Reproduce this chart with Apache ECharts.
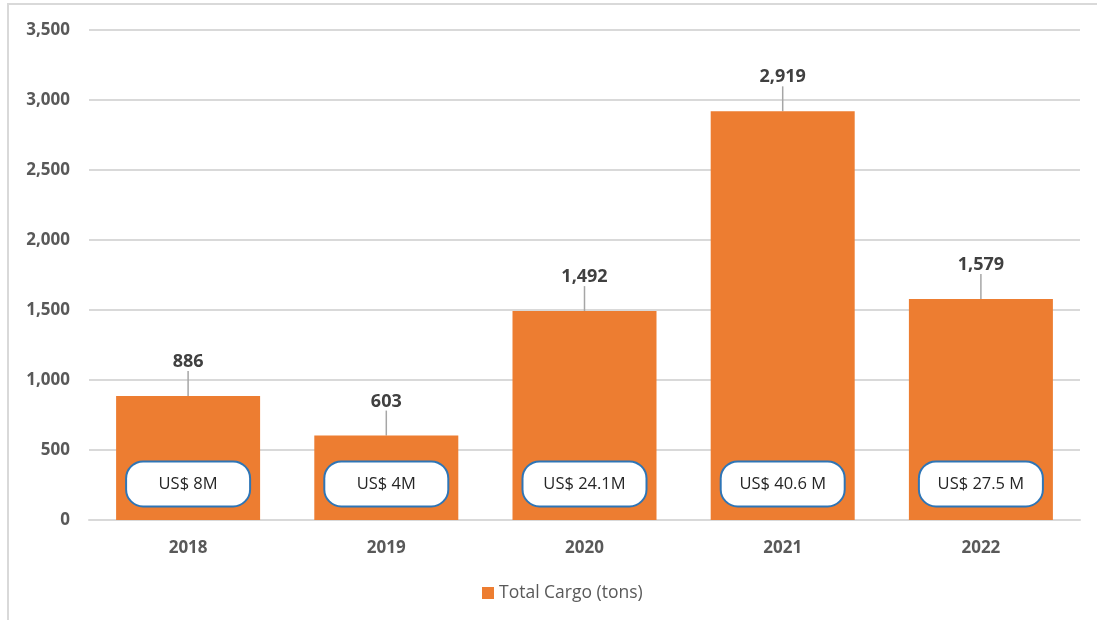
<!DOCTYPE html>
<html>
<head>
<meta charset="utf-8">
<script src="https://cdn.jsdelivr.net/npm/echarts@6/dist/echarts.min.js"></script>
<style>
html,body{margin:0;padding:0;background:#fff;}
#chart{width:1097px;height:620px;}
</style>
</head>
<body>
<div id="chart"></div>
<script>
const categories = ['2018', '2019', '2020', '2021', '2022'];
const cargoTons = [886, 603, 1492, 2919, 1579];
const valueLabels = ['US$ 8M', 'US$ 4M', 'US$ 24.1M', 'US$ 40.6 M', 'US$ 27.5 M'];
const seriesName = 'Total Cargo (tons)';

const BOX_LEVEL = 258;

const chart = echarts.init(document.getElementById('chart'));
chart.setOption({
  animation: false,
  backgroundColor: '#fff',
  textStyle: { fontFamily: 'Open Sans' },
  graphic: [{
    type: 'rect', silent: true, z: -10,
    shape: { x: 8, y: 4, width: 1200, height: 800 },
    style: { fill: 'none', stroke: '#d9d9d9', lineWidth: 2 }
  }],
  grid: { left: 89, right: 17, top: 30, bottom: 100 },
  legend: {
    data: [seriesName],
    top: 579,
    left: 477,
    itemWidth: 12, itemHeight: 12, itemGap: 6,
    icon: 'rect',
    textStyle: { color: '#595959', fontSize: 17.5, fontFamily: 'Open Sans' }
  },
  xAxis: {
    type: 'category',
    data: categories,
    axisLine: { show: true, lineStyle: { color: '#d9d9d9', width: 2 } },
    axisTick: { show: false },
    axisLabel: { color: '#595959', fontSize: 17, fontWeight: 'bold', margin: 20, fontFamily: 'Open Sans' }
  },
  yAxis: {
    type: 'value',
    min: 0, max: 3500, interval: 500,
    axisLine: { show: false },
    axisTick: { show: false },
    splitLine: { lineStyle: { color: '#d9d9d9', width: 2 } },
    axisLabel: {
      color: '#595959', fontSize: 17, fontWeight: 'bold', margin: 19, fontFamily: 'Open Sans',
      formatter: v => v.toLocaleString('en-US')
    }
  },
  series: [
    {
      name: seriesName,
      type: 'bar',
      data: cargoTons,
      barWidth: 144,
      itemStyle: { color: '#ed7d31' },
      emphasis: { disabled: true },
      label: {
        show: true, position: 'top', distance: 0,
        color: '#404040', fontSize: 18, fontWeight: 'bold', fontFamily: 'Open Sans',
        formatter: p => p.value.toLocaleString('en-US')
      },
      labelLayout: { dy: -25 },
      labelLine: { show: true, lineStyle: { color: '#a6a6a6', width: 1.5 } }
    },
    {
      name: 'boxes',
      type: 'scatter',
      data: categories.map(() => BOX_LEVEL),
      symbolSize: 0,
      z: 5,
      itemStyle: { opacity: 1 },
      emphasis: { disabled: true },
      label: {
        show: true, position: 'inside',
        formatter: p => valueLabels[p.dataIndex],
        color: '#262626', fontSize: 16.5, fontFamily: 'Open Sans', opacity: 1,
        backgroundColor: '#ffffff',
        borderColor: '#2e75b6', borderWidth: 2, borderRadius: 16,
        width: 122, height: 43, lineHeight: 43, align: 'center', padding: 0
      }
    }
  ]
});
</script>
</body>
</html>
